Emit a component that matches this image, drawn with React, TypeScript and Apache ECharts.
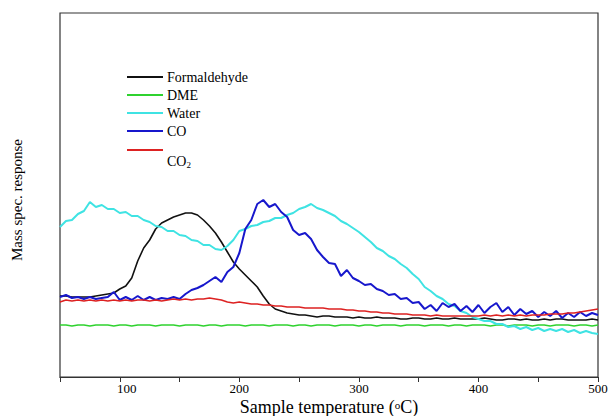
import React, { useEffect, useRef } from "react";
import * as echarts from "echarts";

const temperatures = [
  50, 55, 60, 65, 70, 75, 80, 85, 90, 95,
  100, 105, 110, 115, 120, 125, 130, 135, 140, 145,
  150, 155, 160, 165, 170, 175, 180, 185, 190, 195,
  200, 205, 210, 215, 220, 225, 230, 235, 240, 245,
  250, 255, 260, 265, 270, 275, 280, 285, 290, 295,
  300, 305, 310, 315, 320, 325, 330, 335, 340, 345,
  350, 355, 360, 365, 370, 375, 380, 385, 390, 395,
  400, 405, 410, 415, 420, 425, 430, 435, 440, 445,
  450, 455, 460, 465, 470, 475, 480, 485, 490, 495, 500,
];

const formaldehyde = [
  81, 81, 80, 80, 80, 80, 81, 82, 83, 84,
  88, 91, 99, 116, 129, 137, 148, 154, 157, 160,
  162, 164, 164, 162, 157, 151, 144, 135, 125, 115,
  108, 102, 96, 90, 81, 73, 68, 66, 64, 63,
  62, 62, 61, 60, 61, 61, 60, 60, 60, 59,
  60, 59, 59, 60, 59, 59, 59, 58, 58, 59,
  59, 58, 58, 59, 58, 58, 59, 58, 58, 58,
  58, 59, 58, 57, 57, 58, 58, 57, 58, 57,
  57, 58, 57, 58, 58, 57, 57, 57, 57, 58, 57,
];

const dme = [
  52, 52, 51, 52, 52, 51, 52, 52, 52, 51,
  52, 52, 51, 52, 52, 52, 51, 52, 52, 52,
  51, 52, 52, 52, 51, 52, 52, 51, 52, 52,
  52, 51, 52, 52, 52, 51, 52, 52, 52, 51,
  52, 52, 51, 52, 52, 52, 51, 52, 52, 52,
  51, 52, 52, 51, 52, 52, 52, 51, 52, 52,
  52, 51, 52, 52, 52, 51, 52, 52, 51, 52,
  52, 52, 51, 52, 52, 51, 52, 52, 52, 51,
  52, 52, 51, 52, 52, 52, 51, 52, 52, 51, 52,
];

const water = [
  150, 156, 157, 163, 166, 175, 170, 172, 168, 168,
  164, 165, 161, 161, 157, 155, 151, 150, 146, 146,
  142, 141, 137, 136, 132, 132, 128, 127, 131, 137,
  146, 148, 151, 152, 155, 156, 159, 159, 162, 164,
  168, 170, 173, 169, 167, 164, 161, 156, 153, 149,
  145, 140, 135, 129, 126, 121, 118, 113, 109, 103,
  98, 90, 86, 81, 78, 73, 71, 66, 64, 60,
  58, 56, 56, 53, 53, 50, 51, 48, 50, 47,
  49, 46, 48, 46, 48, 45, 47, 44, 46, 44, 43,
];

const co = [
  80, 82, 79, 80, 78, 80, 78, 79, 80, 85,
  77, 80, 77, 81, 77, 80, 77, 79, 78, 80,
  78, 83, 87, 89, 92, 96, 100, 95, 105, 110,
  124, 148, 157, 173, 177, 170, 173, 165, 160, 147,
  142, 144, 138, 127, 120, 114, 113, 101, 107, 99,
  96, 92, 93, 88, 86, 82, 83, 78, 79, 74,
  75, 68, 72, 66, 74, 70, 73, 66, 71, 65,
  72, 64, 70, 74, 65, 70, 62, 68, 63, 66,
  60, 65, 61, 66, 59, 64, 60, 65, 61, 64, 62,
];

const co2 = [
  75, 77, 76, 77, 76, 77, 76, 77, 76, 77,
  76, 77, 76, 77, 77, 76, 77, 76, 77, 78,
  77, 78, 77, 78, 78, 79, 78, 77, 75, 74,
  75, 74, 73, 73, 72, 72, 71, 71, 70, 70,
  70, 69, 69, 69, 69, 68, 68, 68, 67, 67,
  66, 66, 65, 65, 64, 64, 63, 63, 63, 62,
  62, 62, 61, 62, 61, 61, 61, 61, 61, 61,
  61, 62, 61, 62, 61, 62, 61, 62, 61, 62,
  62, 62, 63, 63, 63, 64, 64, 65, 66, 67, 68,
];

const seriesNames = ["Formaldehyde", "DME", "Water", "CO", "CO2"];
const seriesColors = ["#111111", "#2fd22f", "#3fe3e3", "#1717cc", "#dd2222"];
const seriesWidths = [1.6, 1.6, 2, 2, 1.6];
const seriesValues = [formaldehyde, dme, water, co, co2];

const xTickLabels = ["100", "200", "300", "400", "500"];

const SERIF = "Liberation Serif";

export default function App() {
  const ref = useRef<HTMLDivElement>(null);

  useEffect(() => {
    if (!ref.current) return;
    const chart = echarts.init(ref.current, undefined, { renderer: "svg" });

    const legendY = [77, 95, 113, 131, 150];
    const legendGraphics: any[] = [];
    seriesNames.forEach((name, i) => {
      legendGraphics.push({
        type: "line",
        shape: { x1: 127, y1: legendY[i], x2: 163, y2: legendY[i] },
        style: { stroke: seriesColors[i], lineWidth: 2 },
      });
      if (name !== "CO2") {
        legendGraphics.push({
          type: "text",
          x: 167,
          y: legendY[i],
          style: {
            text: name,
            fontSize: 14,
            fontFamily: SERIF,
            fill: "#000",
            align: "left",
            verticalAlign: "middle",
          },
        });
      }
    });
    legendGraphics.push({
      type: "text",
      x: 167,
      y: 161,
      style: {
        text: "CO",
        fontSize: 14,
        fontFamily: SERIF,
        fill: "#000",
        align: "left",
        verticalAlign: "middle",
      },
    });
    legendGraphics.push({
      type: "text",
      x: 186.5,
      y: 165,
      style: {
        text: "2",
        fontSize: 9,
        fontFamily: SERIF,
        fill: "#000",
        align: "left",
        verticalAlign: "middle",
      },
    });

    chart.setOption({
      animation: false,
      backgroundColor: "#ffffff",
      grid: {
        left: 60,
        right: 17,
        top: 13,
        bottom: 39,
        show: true,
        borderColor: "#333",
        borderWidth: 1.2,
        backgroundColor: "transparent",
      },
      xAxis: {
        type: "value",
        min: 50,
        max: 500,
        interval: 50,
        axisLine: { show: true, lineStyle: { color: "#333", width: 1.2 } },
        axisTick: { show: true, length: 5, inside: false, lineStyle: { color: "#333", width: 1 } },
        splitLine: { show: false },
        axisLabel: {
          color: "#000",
          fontFamily: SERIF,
          fontSize: 13,
          margin: 5,
          showMinLabel: true,
          showMaxLabel: true,
          formatter: (v: number) => {
            const s = String(v);
            if (!xTickLabels.includes(s)) return "";
            return s === "100" ? "{shift|" + s + "}" : s;
          },
          rich: {
            shift: { fontSize: 13, fontFamily: SERIF, color: "#000", padding: [0, 0, 0, 14] },
          },
        },
      },
      yAxis: {
        type: "value",
        min: 0,
        max: 364,
        show: false,
      },
      series: seriesNames.map((name, i) => ({
        name,
        type: "line",
        showSymbol: false,
        symbol: "none",
        data: temperatures.map((t, j) => [t, seriesValues[i][j]]),
        lineStyle: { color: seriesColors[i], width: seriesWidths[i] },
        itemStyle: { color: seriesColors[i] },
        z: 2 + i,
      })),
      graphic: [
        ...legendGraphics,
        {
          type: "text",
          x: 17,
          y: 200,
          rotation: Math.PI / 2,
          style: {
            text: "Mass spec. response",
            fontSize: 15,
            fontFamily: SERIF,
            fill: "#000",
            align: "center",
            verticalAlign: "middle",
          },
        },
        {
          type: "text",
          x: 329,
          y: 407,
          style: {
            text: "{a|Sample temperature (}{b|o}{a|C)}",
            align: "center",
            verticalAlign: "middle",
            fill: "#000",
            rich: {
              a: { fontSize: 18, fontFamily: SERIF, fill: "#000", lineHeight: 16 },
              b: { fontSize: 11, fontFamily: SERIF, fill: "#000", verticalAlign: "top", lineHeight: 16 },
            },
          },
        },
      ],
    });

    return () => chart.dispose();
  }, []);

  return (
    <div
      ref={ref}
      style={{ position: "fixed", left: 0, top: 0, width: 615, height: 416, background: "#fff" }}
    />
  );
}
